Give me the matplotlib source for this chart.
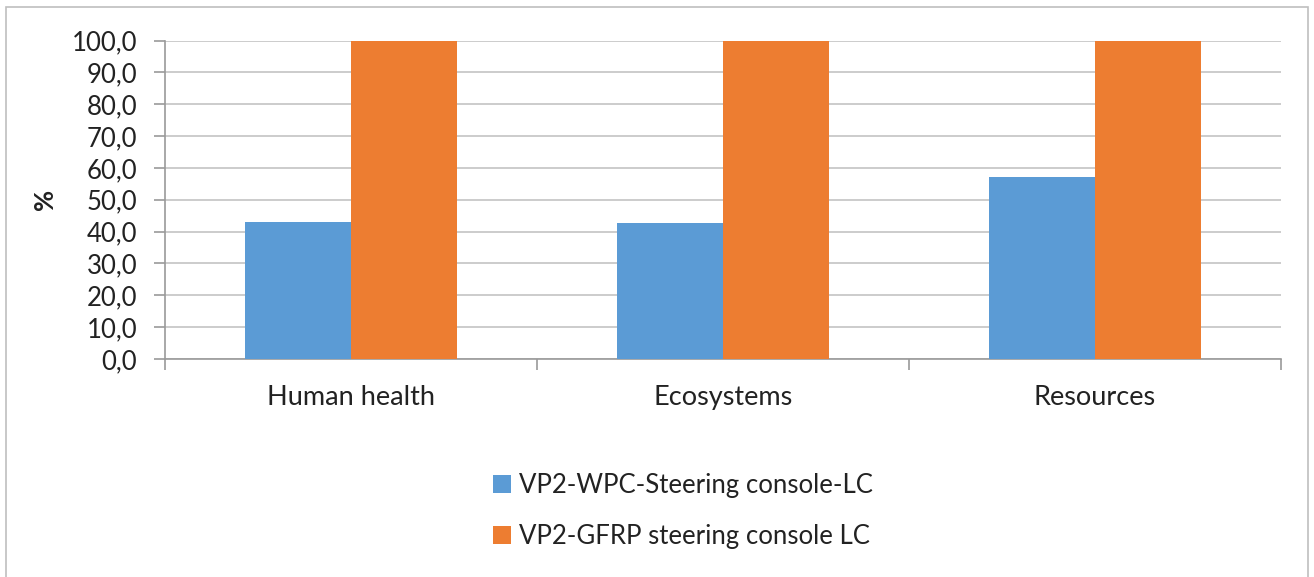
import numpy as np
import matplotlib.pyplot as plt
from matplotlib.patches import Rectangle

categories = ["Human health", "Ecosystems", "Resources"]
wpc_values = [43.1, 42.8, 57.1]
gfrp_values = [100.0, 100.0, 100.0]
series_names = ["VP2-WPC-Steering console-LC", "VP2-GFRP steering console LC"]
yticks = np.arange(0, 101, 10)

blue = "#5B9BD5"
orange = "#ED7D31"
grid_col = "#C4C4C4"
axis_col = "#9A9A9A"

plt.rcParams['font.family'] = ['Lato', 'DejaVu Sans']

W, H = 1314, 577
fig = plt.figure(figsize=(W / 100, H / 100), dpi=100)

# outer chart frame
fig.patches.append(Rectangle((6 / W, -0.01), (1308 - 6) / W, 1 - 7 / H + 0.01,
                             transform=fig.transFigure, fill=False,
                             edgecolor="#BFBFBF", linewidth=1.2))

ax = fig.add_axes([165 / W, 1 - 359 / H, (1281 - 165) / W, (359 - 40.5) / H])

x = np.arange(len(categories))
bw = 0.285
ax.bar(x - bw / 2, wpc_values, bw, color=blue, label=series_names[0], zorder=3)
ax.bar(x + bw / 2, gfrp_values, bw, color=orange, label=series_names[1], zorder=3)

ax.set_xlim(-0.5, len(categories) - 0.5)
ax.set_ylim(0, 100)
ax.set_yticks(yticks)
ax.set_yticklabels([f"{v:.1f}".replace(".", ",") for v in yticks], fontsize=18.5, color="#222222")
ax.yaxis.grid(True, color=grid_col, linewidth=1.2, zorder=0)
ax.set_axisbelow(True)

# category boundary ticks on the x axis
ax.set_xticks(np.arange(-0.5, len(categories), 1.0))
ax.set_xticklabels([])
ax.set_xticks(x, minor=True)
ax.set_xticklabels(categories, minor=True, fontsize=19.5, color="#222222")
ax.tick_params(axis="x", which="minor", length=0, pad=19)
ax.tick_params(axis="x", which="major", length=8, color=axis_col, width=1.2)
ax.tick_params(axis="y", length=8, color=axis_col, width=1.2, pad=12)

for side in ["top", "right"]:
    ax.spines[side].set_visible(False)
for side in ["left", "bottom"]:
    ax.spines[side].set_color(axis_col)
    ax.spines[side].set_linewidth(1.2)

fig.text(45 / W, 1 - 199 / H, "%", rotation=90, fontsize=18.5, fontweight="bold",
         ha="center", va="center", color="#222222")

fig.legend(loc="upper left", bbox_to_anchor=(470 / W, 1 - 450 / H), frameon=False,
           fontsize=18.5, handlelength=0.7, handleheight=0.7, handletextpad=0.3,
           labelspacing=1.0, labelcolor="#222222")

fig.savefig("out.png", dpi=100)
